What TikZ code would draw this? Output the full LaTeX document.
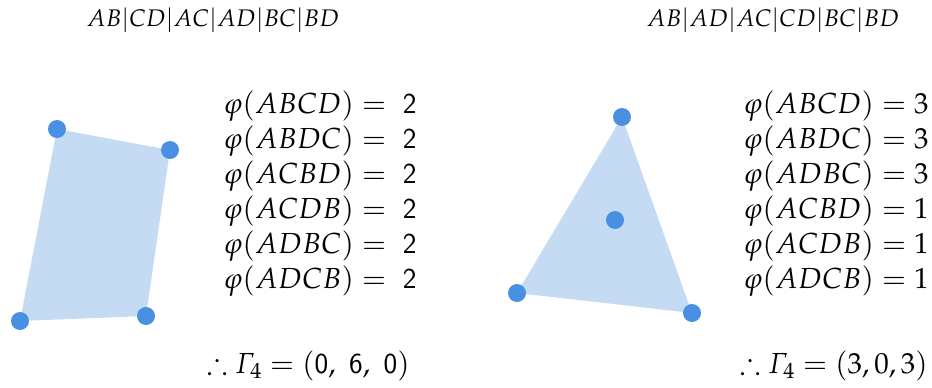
\documentclass[tikz,border=0pt]{standalone}
\usepackage[slantedGreek]{mathpazo}
\usepackage{amssymb}
\definecolor{polyfill}{HTML}{C4DBF3}
\definecolor{vertexblue}{HTML}{4A90E2}
\tikzset{
  vertex/.style={circle, fill=vertexblue, inner sep=0pt, minimum size=18pt},
  eqn/.style={anchor=base west, inner sep=0pt, font=\fontsize{29}{35}\selectfont},
  cutlabel/.style={anchor=base, inner sep=0pt, font=\fontsize{24}{29}\selectfont}
}
\begin{document}
\begin{tikzpicture}[x=1pt, y=-1pt]
  \useasboundingbox (0,0) rectangle (932,388);

  % left: four points in convex position
  \coordinate (pa) at (57,129);
  \coordinate (pb) at (170,150);
  \coordinate (pc) at (146,316);
  \coordinate (pd) at (20,321);
  \fill[polyfill] (pa) -- (pb) -- (pc) -- (pd) -- cycle;
  \foreach \p in {pa,pb,pc,pd}
    \node[vertex] (v\p) at (\p) {};

  % right: one point inside the triangle
  \coordinate (qa) at (622,117);
  \coordinate (qb) at (692,313);
  \coordinate (qc) at (517,293);
  \coordinate (qd) at (615,220);
  \fill[polyfill] (qa) -- (qb) -- (qc) -- cycle;
  \foreach \p in {qa,qb,qc,qd}
    \node[vertex] (v\p) at (\p) {};

  \node[cutlabel] (cutl) at (213,27) {$AB|CD|AC|AD|BC|BD$};
  \node[cutlabel] (cutr) at (773,27) {$AB|AD|AC|CD|BC|BD$};

  \foreach \w [count=\i from 0] in {ABCD,ABDC,ACBD,ACDB,ADBC,ADCB}
    \node[eqn] (phil\i) at (223,{113+35*\i}) {$\varphi(\w) =\ \textsf{2}$};

  \foreach \w/\v [count=\i from 0] in {ABCD/3,ABDC/3,ADBC/3,ACBD/1,ACDB/1,ADCB/1}
    \node[eqn] (phir\i) at (743,{113+35*\i}) {$\varphi(\w) = \v$};

  \node[eqn] (gammal) at (207,373) {$\therefore \Gamma_4 = (\textsf{0},\ \textsf{6},\ \textsf{0})$};
  \node[eqn] (gammar) at (740,373) {$\therefore \Gamma_4 = (3,0,3)$};
\end{tikzpicture}
\end{document}
